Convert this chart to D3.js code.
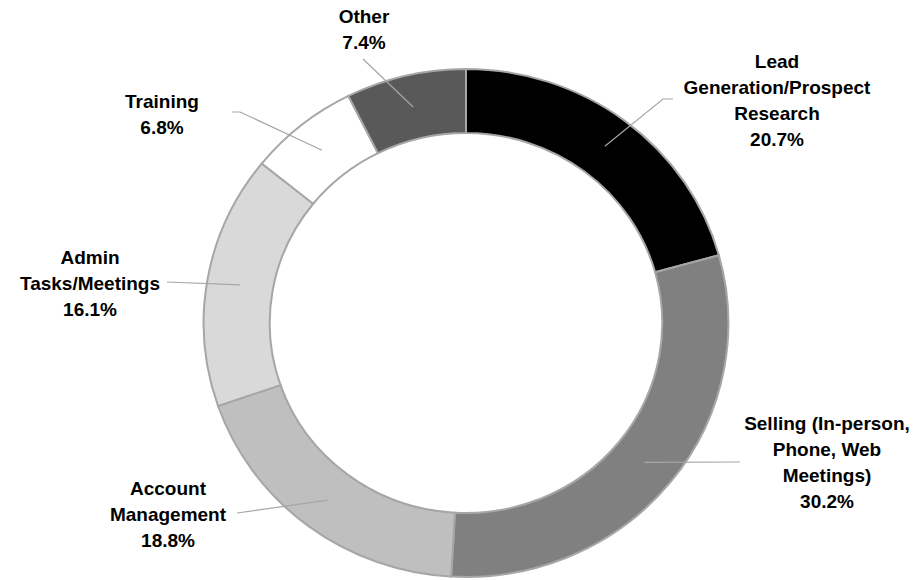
<!DOCTYPE html>
<html>
<head>
<meta charset="utf-8">
<script src="https://cdn.jsdelivr.net/npm/d3@7"></script>
<style>
  html, body { margin: 0; padding: 0; background: #fff; }
  svg { display: block; }
  text { font-family: "Liberation Sans", Arial, sans-serif; font-weight: bold; fill: #000; }
</style>
</head>
<body>
<svg id="chart" width="918" height="580"></svg>
<script>
// Share of sales time by activity (percent)
const categories = [
  "Lead Generation/Prospect Research",
  "Selling (In-person, Phone, Web Meetings)",
  "Account Management",
  "Admin Tasks/Meetings",
  "Training",
  "Other"
];
const values = [20.7, 30.2, 18.8, 16.1, 6.8, 7.4];
const labelLines = [
  ["Lead", "Generation/Prospect", "Research"],
  ["Selling (In-person,", "Phone, Web", "Meetings)"],
  ["Account", "Management"],
  ["Admin", "Tasks/Meetings"],
  ["Training"],
  ["Other"]
];
const colors = ["#000000", "#808080", "#bfbfbf", "#d9d9d9", "#ffffff", "#595959"];

// Label placement: text centre x, centre y of the first line, and leader path end points
const labelLayout = [
  { x: 777, y: 61,  leader: [[663, 99], [673, 99]] },
  { x: 827, y: 423, leader: [[740, 462]] },
  { x: 168, y: 488, leader: [[237, 513]] },
  { x: 90,  y: 257, leader: [[167, 282]] },
  { x: 162, y: 101, leader: [[240, 112], [232, 112]] },
  { x: 364, y: 16,  leader: [[363, 59]] }
];

const cx = 466, cy = 323;
const outerR = 254, innerR = 190;
const sx = 1.033; // ring is drawn slightly wider than tall
const lineH = 26;

const svg = d3.select("#chart");

const pie = d3.pie().sort(null).value(d => d)
  .startAngle(0).endAngle(2 * Math.PI);
const arcs = pie(values);
const arc = d3.arc().innerRadius(innerR).outerRadius(outerR);

const ring = svg.append("g")
  .attr("transform", `translate(${cx},${cy}) scale(${sx},1)`);

ring.selectAll("path")
  .data(arcs)
  .join("path")
  .attr("d", arc)
  .attr("fill", (d, i) => colors[i])
  .attr("stroke", "#a6a6a6")
  .attr("stroke-width", 2)
  .attr("vector-effect", "non-scaling-stroke");

// Leader lines from the middle of each ring segment
const leaders = svg.append("g");
arcs.forEach((d, i) => {
  const c = arc.centroid(d);
  const start = [cx + c[0] * sx, cy + c[1]];
  const pts = [start].concat(labelLayout[i].leader);
  leaders.append("path")
    .attr("d", d3.line()(pts))
    .attr("fill", "none")
    .attr("stroke", "#a6a6a6")
    .attr("stroke-width", 1.2);
});

// Category labels with percentages
const labels = svg.append("g");
arcs.forEach((d, i) => {
  const lay = labelLayout[i];
  const lines = labelLines[i].concat([d3.format(".1f")(values[i]) + "%"]);
  const t = labels.append("text")
    .attr("text-anchor", "middle")
    .style("font-size", "19px");
  lines.forEach((ln, k) => {
    t.append("tspan")
      .attr("x", lay.x)
      .attr("y", lay.y + k * lineH + 6.8)
      .text(ln);
  });
});
</script>
</body>
</html>
